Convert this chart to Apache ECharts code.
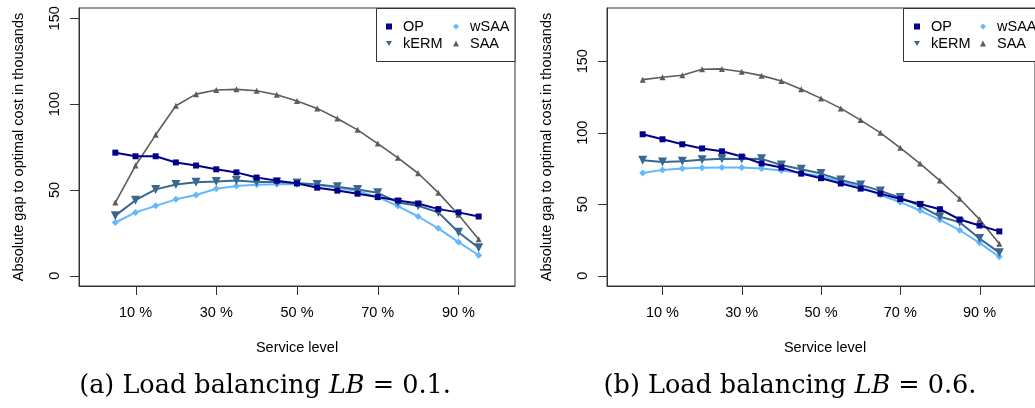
<!DOCTYPE html>
<html>
<head>
<meta charset="utf-8">
<script src="https://cdn.jsdelivr.net/npm/echarts@6/dist/echarts.min.js"></script>
<style>
  html, body { margin: 0; padding: 0; background: #ffffff; }
  #chart { width: 1035px; height: 408px; }
</style>
</head>
<body>
<div id="chart"></div>
<script>
// Service levels (in %) at which each method was evaluated
const serviceLevels = [5, 10, 15, 20, 25, 30, 35, 40, 45, 50, 55, 60, 65, 70, 75, 80, 85, 90, 95];
const xTicks = [10, 30, 50, 70, 90];
const yTicks = [0, 50, 100, 150];

// Panel (a): load balancing LB = 0.1 — absolute gap to optimal cost (thousands)
const opA   = [71.7, 69.6, 69.6, 66.0, 64.2, 62.0, 60.2, 57.2, 55.4, 53.8, 51.3, 49.6, 47.8, 45.8, 43.8, 42.1, 38.8, 36.9, 34.5];
const kermA = [35.0, 44.0, 50.3, 53.2, 54.4, 54.9, 55.5, 54.6, 54.6, 54.0, 53.2, 51.9, 50.2, 48.3, 42.7, 40.8, 36.9, 25.3, 16.3];
const wsaaA = [31.0, 36.9, 40.7, 44.5, 47.0, 50.7, 52.3, 53.0, 53.3, 53.3, 53.0, 51.3, 49.4, 45.8, 40.6, 34.5, 27.6, 19.6, 11.9];
const saaA  = [42.6, 64.2, 82.1, 99.0, 105.8, 108.2, 108.6, 107.8, 105.4, 101.8, 97.5, 91.6, 85.0, 77.0, 68.7, 59.7, 48.4, 35.5, 21.3];

// Panel (b): load balancing LB = 0.6
const opB   = [98.9, 95.4, 91.9, 89.0, 87.0, 83.3, 78.5, 75.6, 71.4, 68.2, 64.5, 60.9, 57.4, 53.6, 50.2, 46.5, 39.3, 35.1, 31.0];
const kermB = [80.8, 79.5, 80.1, 81.0, 81.8, 81.6, 81.7, 77.4, 74.4, 71.4, 67.0, 63.5, 59.3, 54.6, 48.9, 41.3, 37.4, 26.0, 16.1];
const wsaaB = [71.8, 74.0, 75.0, 75.5, 75.7, 75.7, 74.9, 73.6, 71.8, 69.5, 66.0, 62.0, 56.4, 51.4, 45.6, 39.1, 31.8, 23.0, 13.2];
const saaB  = [137.1, 138.8, 140.2, 144.4, 144.6, 142.6, 139.9, 136.2, 130.4, 124.0, 117.0, 108.8, 99.9, 89.4, 78.4, 66.5, 53.8, 39.4, 22.4];

const SANS = "'Liberation Sans', Arial, Helvetica, sans-serif";
const SERIF = "'DejaVu Serif', 'Liberation Serif', serif";
const downTriangle = 'path://M0,0L10,0L5,8.66Z';
const FRAME = '#333';
const TICK_LEN = 9;
const X_TITLE = 'Service level';
const Y_TITLE = 'Absolute gap to optimal cost in thousands';

const styles = {
  SAA:  { color: '#5c5c5c', symbol: 'triangle', size: 6, rotate: 0,   width: 1.6 },
  wSAA: { color: '#63b8ff', symbol: 'diamond',  size: 7, rotate: 0,   width: 2 },
  kERM: { color: '#3a678e', symbol: 'triangle', size: 9, rotate: 180, width: 2 },
  OP:   { color: '#00008b', symbol: 'rect',     size: 6, rotate: 0,   width: 2 }
};

const panels = [
  { left: 79,  top: 8, width: 436, height: 278, yMin: -6,   yMax: 156 },
  { left: 607, top: 8, width: 436, height: 278, yMin: -7.2, yMax: 187.2 }
];

function pairs(values) {
  return serviceLevels.map((s, i) => [s, values[i]]);
}

function line(name, values, panel) {
  const st = styles[name];
  return {
    type: 'line',
    name: name,
    xAxisIndex: panel,
    yAxisIndex: panel,
    data: pairs(values),
    symbol: st.symbol,
    symbolSize: st.size,
    symbolRotate: st.rotate,
    showSymbol: true,
    itemStyle: { color: st.color },
    lineStyle: { color: st.color, width: st.width },
    emphasis: { disabled: true },
    animation: false
  };
}

function xAxisFor(panel) {
  return {
    type: 'value',
    gridIndex: panel,
    min: -4,
    max: 104,
    axisLine: { show: true, onZero: false, lineStyle: { color: FRAME, width: 1 } },
    splitLine: { show: false },
    axisTick: { show: false },
    axisLabel: {
      customValues: xTicks,
      formatter: v => v + ' %',
      margin: 19,
      fontFamily: SANS, fontSize: 14.5, color: '#000'
    }
  };
}

function yAxisFor(panel) {
  return {
    type: 'value',
    gridIndex: panel,
    min: panels[panel].yMin,
    max: panels[panel].yMax,
    axisLine: { show: true, onZero: false, lineStyle: { color: FRAME, width: 1 } },
    splitLine: { show: false },
    axisTick: { show: false },
    axisLabel: {
      customValues: yTicks,
      rotate: 90,
      margin: 17,
      fontFamily: SANS, fontSize: 14.5, color: '#000'
    }
  };
}

function legendColumn(names, left) {
  return {
    orient: 'vertical',
    left: left,
    top: 19,
    itemWidth: 6,
    itemHeight: 6,
    itemGap: 2,
    padding: 0,
    selectedMode: false,
    data: names.map(n => ({
      name: n,
      icon: n === 'OP' ? 'rect' : n === 'kERM' ? downTriangle : styles[n].symbol
    })),
    formatter: '{t|{name}}',
    textStyle: {
      rich: { t: { fontFamily: SANS, fontSize: 14.5, color: '#000', lineHeight: 16, padding: [0, 0, 0, 6] } }
    }
  };
}

function caption(cx, tag, lb) {
  return {
    type: 'text',
    x: cx,
    y: 386,
    style: {
      text: '{n|(' + tag + ') Load balancing }{i|LB}{n| = ' + lb + '.}',
      align: 'center',
      verticalAlign: 'middle',
      rich: {
        n: { fontFamily: SERIF, fontSize: 25.5, color: '#000' },
        i: { fontFamily: SERIF, fontSize: 25.5, fontStyle: 'italic', color: '#000' }
      }
    }
  };
}

// Axis titles, centred on each plot frame
function titles(p, yTitleX) {
  return [
    {
      type: 'text',
      x: p.left + p.width / 2,
      y: 348,
      style: { text: X_TITLE, align: 'center', verticalAlign: 'middle', fontFamily: SANS, fontSize: 14.5, fill: '#000' }
    },
    {
      type: 'text',
      x: yTitleX,
      y: p.top + p.height / 2,
      rotation: Math.PI / 2,
      style: { text: Y_TITLE, align: 'center', verticalAlign: 'middle', fontFamily: SANS, fontSize: 14.5, fill: '#000' }
    }
  ];
}

const baseGraphics = [
  { type: 'rect', shape: { x: 376.5, y: 8.5, width: 138.5, height: 53 }, style: { fill: '#fff', stroke: FRAME, lineWidth: 1 }, z: 3 },
  { type: 'rect', shape: { x: 903.5, y: 8.5, width: 140, height: 53 }, style: { fill: '#fff', stroke: FRAME, lineWidth: 1 }, z: 3 },
  ...titles(panels[0], 18.5),
  ...titles(panels[1], 546.5),
  caption(265, 'a', '0.1'),
  caption(790, 'b', '0.6')
];

const chart = echarts.init(document.getElementById('chart'), null, { renderer: 'canvas' });

chart.setOption({
  backgroundColor: '#ffffff',
  animation: false,
  grid: panels.map(p => ({
    left: p.left, top: p.top, width: p.width, height: p.height,
    show: true, borderColor: FRAME, borderWidth: 1
  })),
  xAxis: [xAxisFor(0), xAxisFor(1)],
  yAxis: [yAxisFor(0), yAxisFor(1)],
  legend: [
    legendColumn(['OP', 'kERM'], 386),
    legendColumn(['wSAA', 'SAA'], 453),
    legendColumn(['OP', 'kERM'], 914),
    legendColumn(['wSAA', 'SAA'], 980)
  ],
  graphic: baseGraphics,
  series: [
    line('SAA', saaA, 0), line('wSAA', wsaaA, 0), line('kERM', kermA, 0), line('OP', opA, 0),
    line('SAA', saaB, 1), line('wSAA', wsaaB, 1), line('kERM', kermB, 1), line('OP', opB, 1)
  ]
});

// Outward tick marks at the labelled values, positioned through each axis scale
function tickMarks() {
  const marks = [];
  panels.forEach((p, i) => {
    const bottom = p.top + p.height;
    xTicks.forEach(v => {
      const x = Math.round(chart.convertToPixel({ xAxisIndex: i }, v)) + 0.5;
      marks.push({ type: 'line', shape: { x1: x, y1: bottom, x2: x, y2: bottom + TICK_LEN },
                   style: { stroke: FRAME, lineWidth: 1 }, silent: true });
    });
    yTicks.forEach(v => {
      const y = Math.round(chart.convertToPixel({ yAxisIndex: i }, v)) + 0.5;
      marks.push({ type: 'line', shape: { x1: p.left - TICK_LEN, y1: y, x2: p.left, y2: y },
                   style: { stroke: FRAME, lineWidth: 1 }, silent: true });
    });
  });
  return marks;
}

chart.setOption({ graphic: baseGraphics.concat(tickMarks()) });
</script>
</body>
</html>
